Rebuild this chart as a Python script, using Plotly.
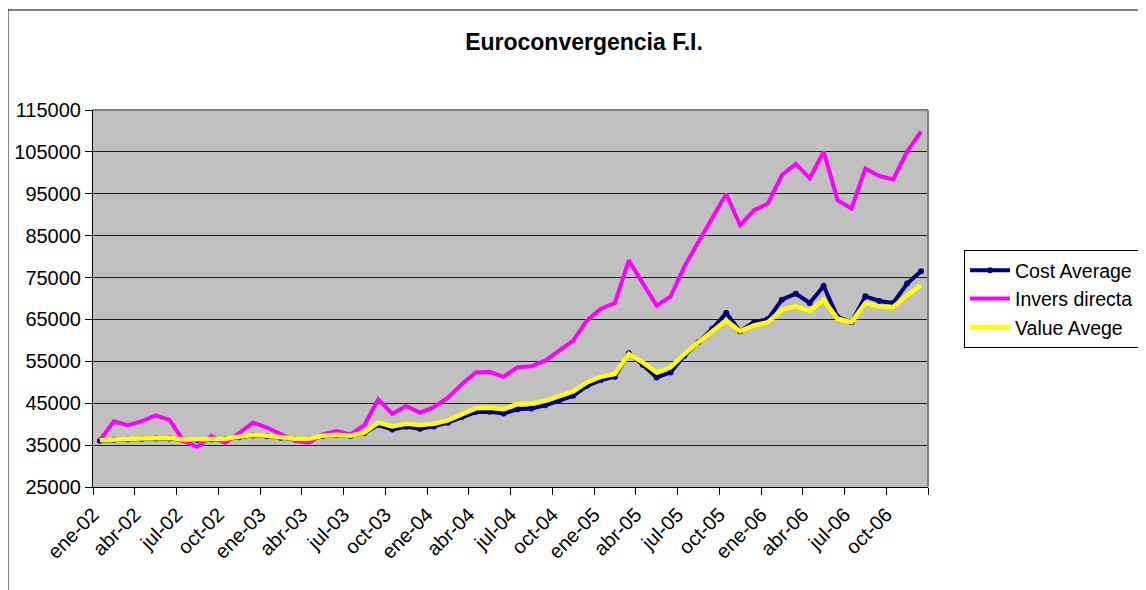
import plotly.graph_objects as go

month_names = ["ene", "feb", "mar", "abr", "may", "jun", "jul", "ago", "sep", "oct", "nov", "dic"]
years = ["02", "03", "04", "05", "06"]
months = [f"{m}-{y}" for y in years for m in month_names]

cost_average = [36030, 36270, 36350, 36430, 36600, 36600, 36200, 36200, 36400, 36400,
                36900, 37300, 37100, 36750, 36400, 36400, 37150, 37400, 37150, 37870,
                39790, 38750, 39390, 38910, 39470, 40350, 41700, 42900, 42980, 42550,
                43550, 43720, 44520, 45720, 46760, 49160, 50520, 51320, 56920, 54200,
                51160, 52360, 56360, 59560, 62760, 66520, 62200, 64360, 65080, 69720,
                71160, 68920, 73000, 65560, 64360, 70520, 69400, 68920, 73560, 76520]

invers_directa = [36200, 40700, 39760, 40700, 42100, 41000, 36000, 34600, 37200, 35500,
                  37850, 40400, 39200, 37600, 36000, 35560, 37550, 38350, 37550, 39790,
                  45930, 42500, 44340, 42740, 44100, 46330, 49520, 52320, 52480, 51300,
                  53600, 53800, 55160, 57560, 59960, 64760, 67560, 68920, 79100, 73680,
                  68300, 70480, 77640, 83480, 89080, 94920, 87480, 91080, 92680, 99480,
                  102120, 98680, 105080, 93480, 91480, 101000, 99240, 98440, 105080, 109880]

value_avege = [36150, 36400, 36480, 36560, 36720, 36720, 36330, 36330, 36520, 36520,
               37000, 37400, 37220, 36880, 36520, 36500, 37250, 37500, 37250, 38000,
               40350, 39470, 40100, 39800, 40100, 40900, 42340, 43780, 43940, 43600,
               44800, 44920, 45560, 46760, 47800, 49960, 51320, 51960, 56760, 54760,
               52360, 53560, 56760, 59560, 62200, 64760, 62200, 63560, 64360, 67320,
               68120, 67000, 69720, 65160, 64360, 68920, 68120, 67960, 70760, 73160]

tick_labels = ["ene-02", "abr-02", "jul-02", "oct-02", "ene-03", "abr-03", "jul-03", "oct-03",
               "ene-04", "abr-04", "jul-04", "oct-04", "ene-05", "abr-05", "jul-05", "oct-05",
               "ene-06", "abr-06", "jul-06", "oct-06", ""]

y_ticks = [25000, 35000, 45000, 55000, 65000, 75000, 85000, 95000, 105000, 115000]

x = list(range(len(months)))
tickvals = [i * 3 - 0.5 for i in range(len(tick_labels))]

FONT = "Liberation Sans, Arial, sans-serif"

fig = go.Figure()
fig.add_trace(go.Scatter(x=x, y=cost_average, customdata=months, name="Cost Average",
                         mode="lines+markers",
                         line=dict(color="#000080", width=4),
                         marker=dict(color="#000080", size=6, symbol="circle"),
                         hovertemplate="%{customdata}: %{y}<extra>Cost Average</extra>"))
fig.add_trace(go.Scatter(x=x, y=invers_directa, customdata=months, name="Invers directa",
                         mode="lines",
                         line=dict(color="#FF00FF", width=4),
                         hovertemplate="%{customdata}: %{y}<extra>Invers directa</extra>"))
fig.add_trace(go.Scatter(x=x, y=value_avege, customdata=months, name="Value Avege",
                         mode="lines",
                         line=dict(color="#FFFF00", width=4.5),
                         hovertemplate="%{customdata}: %{y}<extra>Value Avege</extra>"))

# plot area border (top/right gray) and outer chart border (left/top black)
shapes = [
    dict(type="line", xref="paper", yref="paper", x0=0, x1=1, y0=1, y1=1,
         line=dict(color="#808080", width=2), layer="above"),
    dict(type="line", xref="paper", yref="paper", x0=1, x1=1, y0=0, y1=1,
         line=dict(color="#808080", width=2), layer="above"),
    dict(type="line", xref="paper", yref="paper", x0=-0.1018, x1=1.4, y0=1.2653, y1=1.2653,
         line=dict(color="#000000", width=1)),
    dict(type="line", xref="paper", yref="paper", x0=-0.1018, x1=-0.1018, y0=-0.35, y1=1.2653,
         line=dict(color="#000000", width=1)),
]

fig.update_layout(
    width=1146, height=590,
    margin=dict(l=85, r=226, t=102, b=111, autoexpand=False),
    paper_bgcolor="white",
    plot_bgcolor="#C0C0C0",
    font=dict(family=FONT, size=20, color="black"),
    title=dict(text="<b>Euroconvergencia F.I.</b>", x=576 / 1146, xref="container",
               xanchor="center", y=1 - 34 / 590, yref="container", yanchor="middle",
               font=dict(family=FONT, size=23, color="black")),
    showlegend=True,
    legend=dict(x=1.0431, y=0.6286, xanchor="left", yanchor="top",
                bordercolor="black", borderwidth=1, bgcolor="white",
                font=dict(family=FONT, size=19.5, color="black"),
                itemwidth=40, tracegroupgap=0),
    shapes=shapes,
    hovermode="closest",
)

fig.update_xaxes(range=[-0.5, 59.5], tickmode="array", tickvals=tickvals, ticktext=tick_labels,
                 tickangle=-45, ticks="outside", ticklen=7, tickcolor="black",
                 showgrid=False, showline=True, linecolor="black", linewidth=1,
                 zeroline=False, tickfont=dict(family=FONT, size=20, color="black"))
fig.update_yaxes(range=[25000, 115000], tickmode="array", tickvals=y_ticks,
                 ticktext=[str(v) for v in y_ticks],
                 ticks="outside", ticklen=7, tickcolor="black",
                 showgrid=True, gridcolor="#202020", gridwidth=1,
                 showline=True, linecolor="black", linewidth=1,
                 zeroline=False, tickfont=dict(family=FONT, size=20, color="black"))

fig.write_html("out.html")
